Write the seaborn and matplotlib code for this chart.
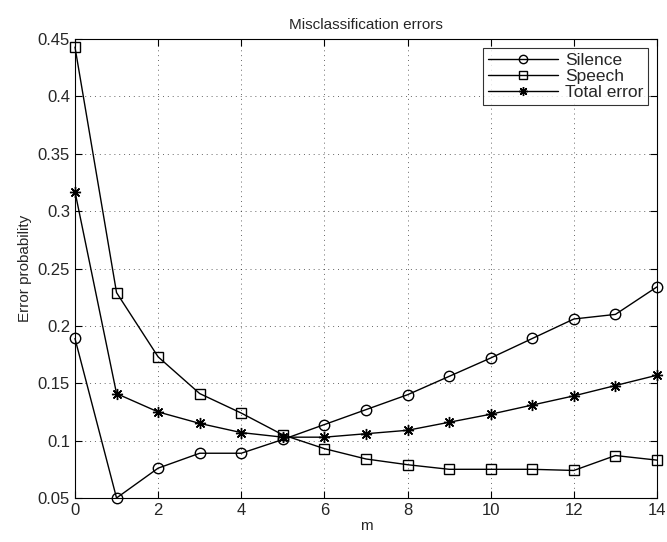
import numpy as np
import pandas as pd
import seaborn as sns
from matplotlib import pyplot as plt

# values
m_values = list(range(15))
silence = [0.189, 0.050, 0.076, 0.089, 0.089, 0.101, 0.114, 0.127, 0.140, 0.156,
           0.172, 0.189, 0.206, 0.210, 0.234]
speech = [0.443, 0.229, 0.173, 0.141, 0.124, 0.105, 0.093, 0.084, 0.079, 0.075,
          0.075, 0.075, 0.074, 0.087, 0.083]
total_error = [0.317, 0.141, 0.125, 0.115, 0.107, 0.103, 0.103, 0.106, 0.109, 0.116,
               0.123, 0.131, 0.139, 0.148, 0.157]
series_names = ['Silence', 'Speech', 'Total error']
x_ticks = [0, 2, 4, 6, 8, 10, 12, 14]
y_ticks = [0.05, 0.1, 0.15, 0.2, 0.25, 0.3, 0.35, 0.4, 0.45]
y_tick_labels = ['0.05', '0.1', '0.15', '0.2', '0.25', '0.3', '0.35', '0.4', '0.45']

sns.set_style('white')
plt.rcParams['font.family'] = ['Liberation Sans', 'DejaVu Sans']

df = pd.DataFrame({'m': m_values, 'Silence': silence, 'Speech': speech,
                   'Total error': total_error})
long_df = df.melt(id_vars='m', var_name='series', value_name='error')

fig = plt.figure(figsize=(6.67, 5.42), dpi=100)
ax = fig.add_axes([0.1124, 0.0812, 0.8726, 0.8468])

markers = {'Silence': 'o', 'Speech': 's', 'Total error': (8, 2, 0)}
sizes = {'Silence': 7.5, 'Speech': 6.5, 'Total error': 8}
for name in series_names:
    sub = long_df[long_df['series'] == name]
    sns.lineplot(data=sub, x='m', y='error', ax=ax, color='black', linewidth=1.0,
                 marker=markers[name], markersize=sizes[name], markerfacecolor='none',
                 markeredgecolor='black', markeredgewidth=1.0, label=name,
                 clip_on=False, zorder=3)

ax.set_xlim(0, 14)
ax.set_ylim(0.05, 0.45)
ax.set_xticks(x_ticks)
ax.set_yticks(y_ticks)
ax.set_yticklabels(y_tick_labels)
ax.grid(True, linestyle=(0, (1, 4)), color='black', linewidth=0.7, alpha=0.6)
ax.tick_params(direction='in', length=5, labelsize=12, top=True, right=True,
               bottom=True, left=True, color='black')
for spine in ax.spines.values():
    spine.set_color('black')
    spine.set_linewidth(0.8)

ax.set_xlabel('m', fontsize=11, labelpad=1)
ax.set_ylabel('Error probability', fontsize=11)
ax.set_title('Misclassification errors', fontsize=11, pad=7)

leg = ax.legend(loc='upper right', fontsize=12.5, frameon=True, fancybox=False,
                edgecolor='black', handlelength=4.0, borderaxespad=0.5,
                labelspacing=0.05, borderpad=0.3, handletextpad=0.4,
                markerscale=0.8)
leg.get_frame().set_linewidth(0.8)

fig.savefig('out.png', dpi=100)
